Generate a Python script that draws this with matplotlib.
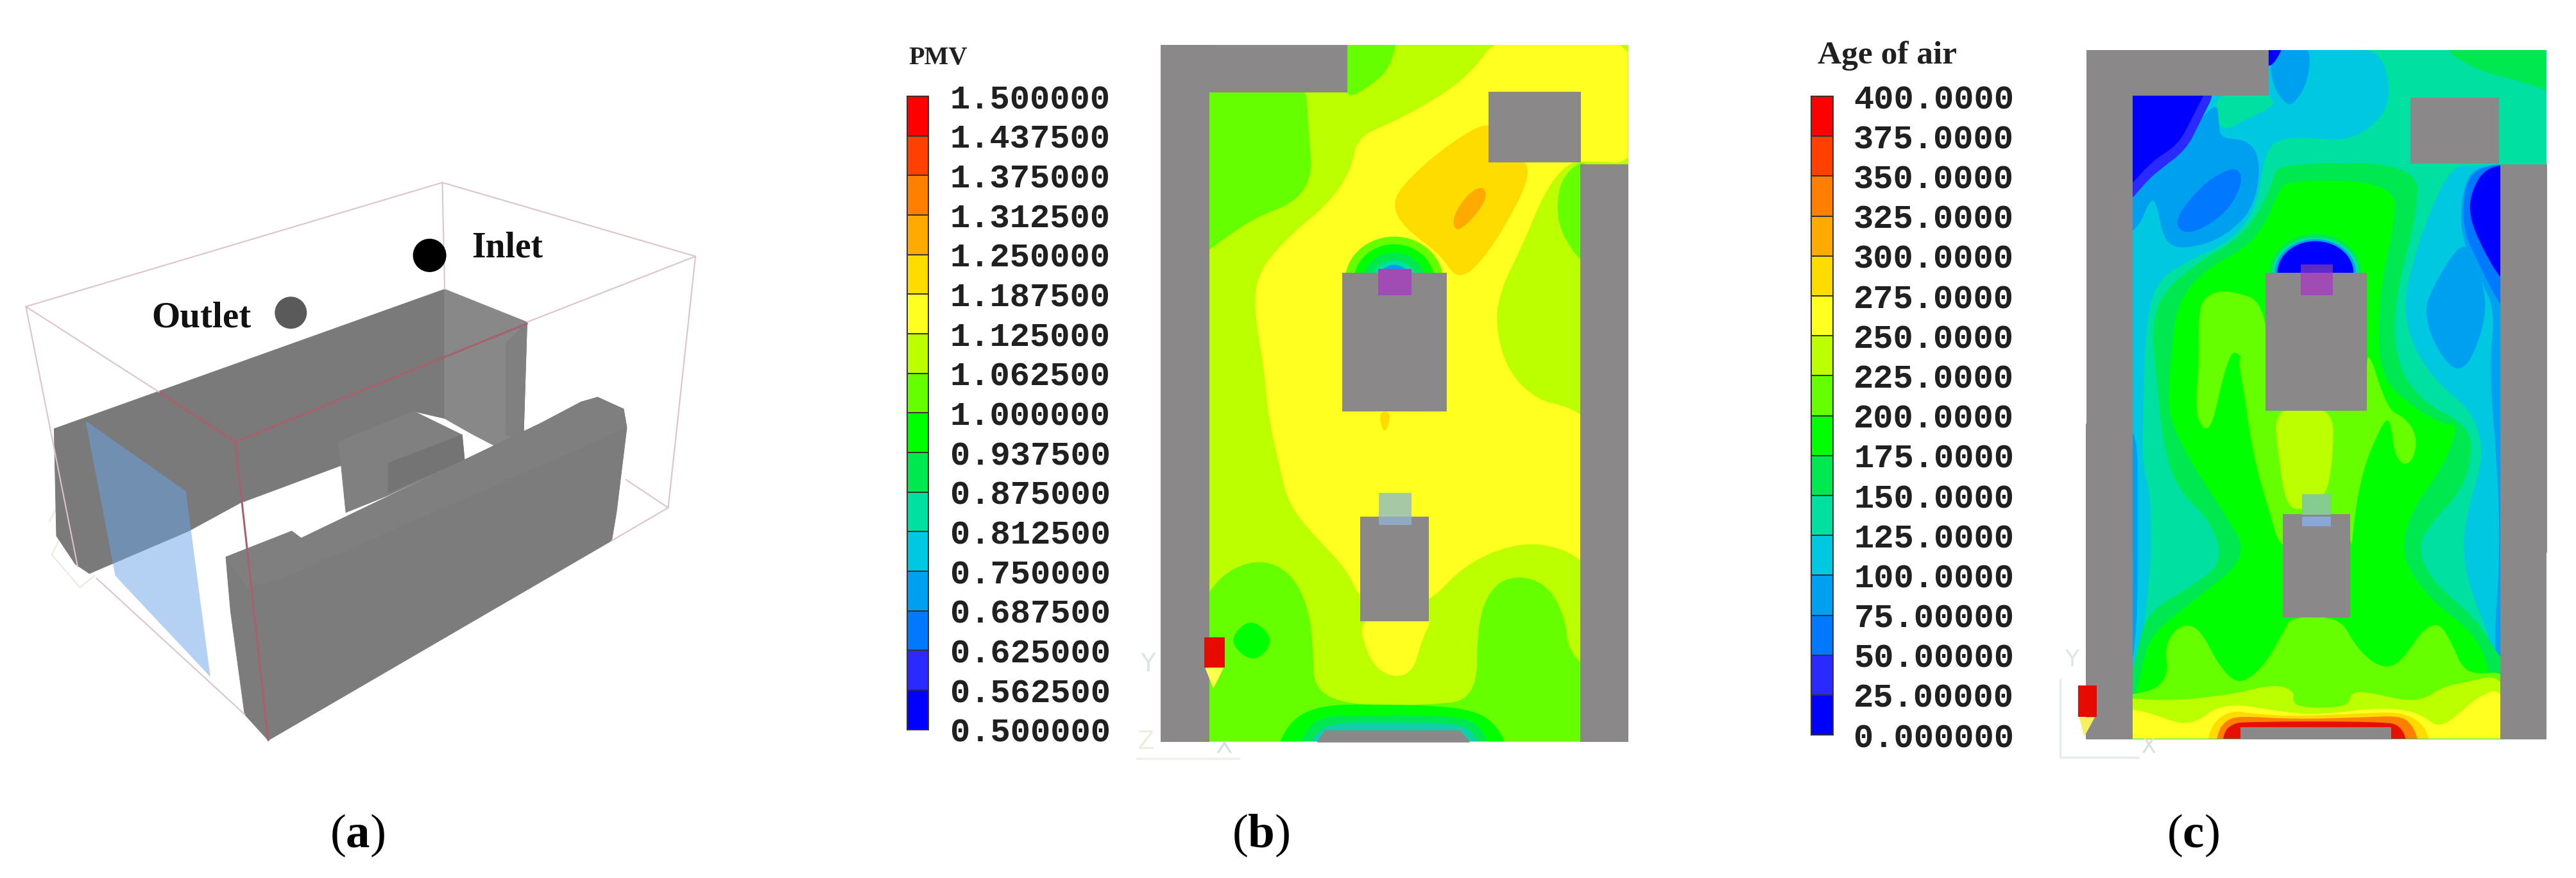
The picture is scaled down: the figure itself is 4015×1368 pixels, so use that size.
#!/usr/bin/env python
import matplotlib
matplotlib.use('Agg')
import matplotlib.pyplot as plt
from matplotlib.patches import PathPatch, Polygon, Rectangle, Ellipse
from matplotlib.path import Path

W, H = 4016, 1368

# legend values and labels
pmv_levels = [0.5, 0.5625, 0.625, 0.6875, 0.75, 0.8125, 0.875, 0.9375, 1.0,
              1.0625, 1.125, 1.1875, 1.25, 1.3125, 1.375, 1.4375, 1.5]
pmv_labels = ['0.500000', '0.562500', '0.625000', '0.687500', '0.750000', '0.812500',
              '0.875000', '0.937500', '1.000000', '1.062500', '1.125000', '1.187500',
              '1.250000', '1.312500', '1.375000', '1.437500', '1.500000']
age_levels = [0, 25, 50, 75, 100, 125, 150, 175, 200, 225, 250, 275, 300, 325, 350, 375, 400]
age_labels = ['0.000000', '25.00000', '50.00000', '75.00000', '100.0000', '125.0000',
              '150.0000', '175.0000', '200.0000', '225.0000', '250.0000', '275.0000',
              '300.0000', '325.0000', '350.0000', '375.0000', '400.0000']
band_colors = ['#0000ff', '#2a2aff', '#0078ff', '#00a0f0', '#00c8e0', '#00e0a0', '#00e850',
               '#00ff00', '#66ff00', '#bbff00', '#ffff20', '#ffdc00', '#ffaa00', '#ff8000',
               '#ff4000', '#ff0000']
c_blue, c_ind, c_b2, c_b3, c_cy, c_te, c_g1, c_g2, c_li, c_yg, c_ye, c_go, c_am, c_or, c_rd, c_re = band_colors
grey = '#8a8888'


def crop(x0, y0, w, h):
    def conv(pts):
        return [(x0 + x * w / 1568.0, y0 + y * h / 1568.0) for x, y in pts]
    return conv


z1 = crop(0, 220, 1150, 1148)
z2 = crop(1380, 40, 1200, 1328)
z3 = crop(2760, 40, 1200, 1328)
z4 = crop(3216, 60, 800, 800)
z5 = crop(3180, 660, 800, 540)

fig = plt.figure(figsize=(W / 100.0, H / 100.0), dpi=100)
plt.rcParams['mathtext.fontset'] = 'custom'
plt.rcParams['mathtext.bf'] = 'Liberation Serif:bold'
plt.rcParams['mathtext.rm'] = 'Liberation Serif'
ax = fig.add_axes([0, 0, 1, 1])
ax.set_xlim(0, W)
ax.set_ylim(H, 0)
ax.axis('off')


def blob(pts, color, clip=None, z=2):
    n = len(pts)
    mid = lambda a, b: ((a[0] + b[0]) / 2.0, (a[1] + b[1]) / 2.0)
    verts = [mid(pts[0], pts[1])]
    codes = [Path.MOVETO]
    for i in range(1, n + 1):
        verts += [pts[(i) % n], mid(pts[i % n], pts[(i + 1) % n])]
        codes += [Path.CURVE3, Path.CURVE3]
    p = PathPatch(Path(verts, codes), fc=color, ec='none', zorder=z)
    ax.add_patch(p)
    if clip is not None:
        p.set_clip_path(clip)
    return p


def poly(pts, color, z=5, seam=True, **kw):
    # same colour edge hides the white seam between touching faces
    p = Polygon(pts, closed=True, fc=color, ec=color if seam else 'none', lw=0.7, zorder=z, **kw)
    ax.add_patch(p)
    return p


def rect(conv, x0, y0, x1, y1, color, z=5):
    return poly(conv([(x0, y0), (x1, y0), (x1, y1), (x0, y1)]), color, z)


def line(pts, color, lw=2.0, z=6):
    xs, ys = zip(*pts)
    ax.plot(xs, ys, color=color, lw=lw, zorder=z, solid_capstyle='round')


# ---------------- panel a
box_light = '#dcc4c8'
box_dark = '#a8606c'
poly(z1([(115, 612), (945, 315), (945, 590), (880, 575), (720, 640), (725, 690), (510, 770),
         (400, 830), (190, 920), (160, 900), (120, 840)]), '#7a7a7a', 2)
poly(z1([(945, 315), (1120, 385), (1112, 640), (1050, 650), (945, 590)]), '#888888', 2)
poly(z1([(1075, 430), (1120, 385), (1112, 640), (1075, 625)]), '#808080', 2)
poly(z1([(940, 592), (1048, 648), (987, 678), (982, 625)]), 'white', 2.5)
poly(z1([(720, 640), (880, 575), (982, 625), (987, 678), (822, 755), (735, 790), (725, 690)]), '#808080', 3)
poly(z1([(825, 685), (982, 625), (987, 678), (825, 748)]), '#747474', 3)
poly(z1([(480, 885), (620, 830), (640, 845), (1150, 600), (1235, 555), (1270, 545), (1325, 570),
         (1332, 610), (1310, 790), (1300, 850), (570, 1275), (520, 1220), (490, 1000)]), '#7c7c7c', 4)
poly(z1([(480, 885), (620, 830), (640, 845), (1150, 600), (1235, 555), (1270, 545), (1325, 570),
         (1332, 610), (600, 930), (525, 950)]), '#7f7f7f', 4)
poly(z1([(182, 595), (395, 745), (447, 1140), (245, 925)]), '#6aa4e8', 5, seam=False, alpha=0.5)
for seg in ([(55, 352), (940, 88), (1478, 245), (1120, 385)],
            [(940, 88), (945, 315)],
            [(55, 352), (340, 535)],
            [(55, 352), (165, 905)],
            [(1478, 245), (1420, 780), (1300, 850)],
            [(1420, 780), (1330, 720)],
            [(205, 930), (520, 1220)]):
    line(z1(seg), box_light, 1.5)
line(z1([(340, 535), (500, 640), (1120, 388)]), box_dark, 2.2)
line(z1([(500, 640), (570, 1275)]), box_dark, 2.2)
line(z1([(105, 810), (130, 760), (150, 800), (110, 880), (170, 950), (200, 925)]), '#e6ece0', 1.5, 1)
rect(z1, 150, 825, 160, 855, '#e07040', 1)
cx, cy = z1([(913, 243)])[0]
ax.add_patch(Ellipse((cx, cy), 52, 52, fc='black', ec='none', zorder=6))
cx, cy = z1([(618, 365)])[0]
ax.add_patch(Ellipse((cx, cy), 50, 50, fc='#5a5a5a', ec='none', zorder=6))
tx, ty = z1([(1003, 228)])[0]
ax.text(tx, ty, 'Inlet', family='Liberation Serif', weight='bold', fontsize=40, va='center', ha='left', color='#111111')
tx, ty = z1([(322, 376)])[0]
ax.text(tx, ty, 'Outlet', family='Liberation Serif', weight='bold', fontsize=41, va='center', ha='left', color='#111111')

# ---------------- panel b
b0, b1 = z2([(560, 35), (1512, 1317)])
clip_b = Rectangle(b0, b1[0] - b0[0], b1[1] - b0[1], transform=ax.transData)
rect(z2, 560, 35, 1512, 1317, c_yg, 1)
green_b = [
    [(560, 60), (855, 80), (862, 200), (870, 275), (835, 325), (760, 350), (700, 385), (640, 425), (560, 480)],
    [(930, 10), (1045, 10), (1030, 75), (990, 110), (930, 140)],
    [(1440, 240), (1385, 268), (1366, 320), (1375, 385), (1440, 460)],
    [(600, 1380), (620, 1100), (680, 1010), (760, 980), (825, 1005), (862, 1070), (872, 1150), (872, 1220),
     (940, 1250), (1100, 1250), (1205, 1240), (1205, 1100), (1235, 1030), (1290, 1010), (1350, 1030),
     (1385, 1090), (1390, 1150), (1440, 1190), (1440, 1380), (1000, 1400)],
]
for g in green_b:
    blob(z2(g), c_li, clip_b, 2)
yellow_b = [(1250, 15), (1195, 85), (1130, 130), (1040, 175), (960, 205), (950, 265), (900, 330), (830, 380),
            (760, 450), (750, 520), (770, 620), (780, 720), (800, 800), (820, 880), (880, 945), (940, 1000),
            (975, 1070), (1100, 1070), (1180, 990), (1290, 950), (1380, 960), (1440, 1000), (1440, 730), (1390, 700),
            (1330, 690), (1270, 640), (1243, 560), (1250, 490), (1300, 400), (1340, 310), (1385, 255), (1425, 248),
            (1540, 255), (1540, 10)]
blob(z2(yellow_b), c_ye, clip_b, 3)
blob(z2([(960, 1080), (985, 1170), (1030, 1200), (1075, 1190), (1092, 1130), (1120, 1080)]), c_ye, clip_b, 3)
blob(z2([(1240, 170), (1150, 215), (1060, 285), (1030, 330), (1060, 375), (1130, 420), (1170, 475), (1245, 400),
         (1330, 250), (1240, 240)]), c_go, clip_b, 3)
blob(z2([(1220, 295), (1190, 305), (1155, 350), (1160, 380), (1190, 362), (1225, 320)]), c_am, clip_b, 3)
blob(z2([(1005, 710), (1030, 710), (1022, 745), (1012, 745)]), c_go, clip_b, 3)
for rx, top, col in ((100, 388, c_li), (82, 402, c_g2), (64, 418, c_g1), (46, 432, c_te), (34, 440, c_b3)):
    cx, cy = z2([(1036, 470)])[0]
    ex, ey = z2([(1036 + rx, 470 - (470 - top))])[0]
    e = Ellipse((cx, cy), 2 * (ex - cx), 2 * (cy - ey), fc=col, ec='none', zorder=3)
    ax.add_patch(e)
for pts, col in (([(780, 1380), (815, 1285), (880, 1250), (1000, 1248), (1180, 1253), (1250, 1285), (1285, 1380)], c_g2),
                 ([(825, 1380), (855, 1292), (900, 1268), (1000, 1268), (1175, 1270), (1220, 1295), (1245, 1380)], c_g1),
                 ([(840, 1380), (870, 1305), (910, 1282), (1000, 1282), (1165, 1282), (1205, 1305), (1230, 1380)], '#10d0a8')):
    blob(z2(pts), col, clip_b, 3)
poly(z2([(880, 1318), (895, 1297), (1170, 1297), (1190, 1318)]), grey, 4)
for r in ((560, 35, 658, 1317), (560, 35, 940, 122), (1415, 255, 1512, 1317),
          (1228, 122, 1415, 250), (930, 455, 1142, 708), (967, 903, 1106, 1094)):
    rect(z2, r[0], r[1], r[2], r[3], grey, 5)
rect(z2, 1003, 447, 1070, 495, '#a04cb4', 6)
rect(z2, 1005, 860, 1070, 903, '#a6c8a4', 6)
rect(z2, 1005, 903, 1070, 918, '#90a8c4', 6)
blob(z2([(745, 1092), (785, 1120), (780, 1150), (745, 1170), (706, 1140), (712, 1115)]), c_g2, clip_b, 3)
rect(z2, 650, 1125, 690, 1180, '#e60a00', 7)
poly(z2([(652, 1182), (688, 1182), (668, 1218)]), '#ffff50', 7)
line(z2([(512, 1348), (720, 1348)]), '#f0f0e8', 2.5, 1)
tx, ty = z2([(535, 1175)])[0]
ax.text(tx, ty, 'Y', family='DejaVu Sans', fontsize=28, color='#dde6e6', ha='center', va='center', zorder=1)
tx, ty = z2([(530, 1318)])[0]
ax.text(tx, ty, 'Z', family='DejaVu Sans', fontsize=28, color='#eeeede', ha='center', va='center', zorder=1)
tx, ty = z2([(690, 1325)])[0]
ax.text(tx, ty, 'X', family='DejaVu Sans', fontsize=28, color='#d8dfe2', ha='center', va='center', zorder=1)

# ---------------- panel c
c0, _ = z4([(70, 35), (0, 0)])
c1, _ = z5([(1545, 1425), (0, 0)])
clip_c = Rectangle(c0, c1[0] - c0[0], c1[1] - c0[1], transform=ax.transData)
poly([c0, (c1[0], c0[1]), c1, (c0[0], c1[1])], c_te, 1)
blob(z4([(1130, 5), (1520, 5), (1520, 175), (1400, 130), (1250, 95)]), c_g1, clip_c, 2)
# cyan
blob(z4([(625, 10), (960, 10), (1005, 170), (960, 260), (860, 315), (740, 300), (640, 310), (610, 380), (590, 520),
         (510, 620), (400, 670), (280, 740), (250, 900), (245, 1100), (240, 1300)]) +
     z5([(335, 300), (340, 550), (330, 750), (310, 1000), (285, 1190), (200, 1200)]) +
     z4([(100, 1000), (100, 100), (400, 100)]), c_cy, clip_c, 2)
blob(z4([(1250, 385), (1190, 390), (1130, 500), (1060, 700), (1040, 830), (1070, 950), (1150, 1060), (1240, 1130),
         (1280, 1230)]) +
     z5([(1345, 200), (1300, 420), (1290, 600), (1320, 780), (1370, 950), (1385, 1100), (1450, 1150), (1450, 0)]) +
     z4([(1400, 800), (1400, 385)]), c_cy, clip_c, 2)
blob(z4([(470, 165), (625, 165), (650, 205), (560, 245), (490, 285), (465, 240)]), c_te, clip_c, 2)
# light blue
blob(z4([(150, 300), (330, 350), (400, 270), (470, 190), (475, 260), (480, 305), (570, 310), (605, 385), (580, 520),
         (500, 600), (400, 640), (310, 635), (285, 500), (265, 490), (225, 590), (150, 600)]), c_b3, clip_c, 3)
blob(z4([(1220, 610), (1115, 780), (1105, 850), (1140, 950), (1205, 1025), (1260, 960), (1300, 800), (1250, 680)]), c_b3, clip_c, 3)
blob(z4([(1400, 380), (1250, 390), (1215, 480), (1215, 610), (1270, 730), (1320, 830), (1300, 1000), (1325, 1300), (1335, 1568)]) +
     z5([(1385, 1000), (1400, 1100), (1480, 1100), (1480, 0)]), c_b3, clip_c, 3)
blob(z5([(200, 0), (298, 0), (298, 400), (298, 800), (290, 1000), (270, 1150), (200, 1150)]), c_b3, clip_c, 3)
blob(z4([(630, 10), (755, 10), (750, 130), (700, 208), (668, 190), (635, 130)]), c_b3, clip_c, 3)
blob(z4([(535, 395), (548, 440), (505, 525), (420, 585), (360, 595), (340, 550), (420, 450), (490, 405)]), c_b2, clip_c, 3)
blob(z4([(1400, 380), (1260, 392), (1222, 470), (1222, 590), (1275, 700), (1340, 830), (1400, 850)]), c_b2, clip_c, 3)
blob(z4([(150, 100), (480, 130), (415, 260), (375, 340), (295, 400), (250, 440), (150, 560)]), c_ind, clip_c, 3)
blob(z4([(150, 100), (455, 120), (390, 250), (350, 325), (270, 375), (205, 450), (150, 480)]), c_blue, clip_c, 3)
blob(z4([(1400, 380), (1290, 392), (1245, 470), (1240, 545), (1282, 645), (1345, 750), (1400, 760)]), c_blue, clip_c, 3)
blob(z4([(620, 10), (680, 10), (640, 85), (615, 80)]), c_blue, clip_c, 3)
# greens
blob(z4([(660, 380), (1090, 380), (1075, 560), (1035, 700), (1005, 880), (1030, 1020), (1110, 1120), (1220, 1170)]) +
     z5([(1325, 100), (1290, 300), (1200, 440), (1150, 560), (1200, 720), (1330, 880), (1400, 1050), (1450, 1130),
         (1450, 1300), (240, 1300), (270, 1200), (300, 1000), (330, 850), (480, 720), (560, 620), (520, 440),
         (420, 300), (375, 100)]) +
     z4([(280, 1000), (270, 880), (300, 780), (400, 690), (540, 610), (610, 510), (640, 430)]), c_g1, clip_c, 4)
blob(z4([(690, 430), (1020, 440), (1005, 600), (975, 720), (960, 900), (975, 1040), (1060, 1120), (1160, 1180)]) +
     z5([(1280, 0), (1230, 200), (1130, 400), (1100, 600), (1190, 800), (1330, 950), (1380, 1150), (1380, 1300), (280, 1300),
         (310, 1100), (340, 950), (470, 800), (640, 600), (560, 400), (470, 200), (400, 0)]) +
     z4([(320, 1100), (330, 950), (350, 800), (440, 700), (560, 640), (620, 560), (655, 470)]), c_g2, clip_c, 4)
# lime patches
blob(z5([(240, 1230), (350, 1210), (392, 1130), (380, 1020), (410, 930), (460, 905), (500, 960), (540, 1080), (595, 1175),
         (645, 1150), (700, 1060), (750, 920), (770, 875), (915, 875), (960, 1000), (1020, 1090), (1080, 1105),
         (1130, 1020), (1170, 930), (1220, 900), (1260, 1000), (1290, 1110), (1340, 1135), (1420, 1120), (1500, 1300),
         (240, 1500)]), c_li, clip_c, 4)
blob(z4([(412, 830), (440, 780), (510, 768), (625, 810), (625, 1140), (580, 1050), (525, 935), (490, 1020), (455, 1185),
         (425, 1195), (402, 1130), (415, 1000)]), c_li, clip_c, 4)
blob(z4([(525, 930), (620, 1100), (930, 1100), (925, 925), (990, 1135), (1042, 1155), (1082, 1215), (1070, 1285), (1040, 1305),
         (1012, 1270), (1000, 1175), (985, 1160), (950, 1230), (915, 1320), (890, 1450), (880, 1568)]) +
     z5([(950, 500), (740, 600), (700, 400), (660, 200), (635, 0)]) + z4([(560, 1130)]), c_li, clip_c, 4)
blob(z4([(640, 1120), (828, 1120), (822, 1300), (800, 1405), (720, 1445), (680, 1420), (660, 1300)]), c_yg, clip_c, 4)
# warm band at the lower vent
blob(z5([(240, 1240), (340, 1250), (420, 1250), (500, 1240), (600, 1220), (680, 1190), (740, 1185), (778, 1220), (770, 1250),
         (790, 1285), (940, 1285), (950, 1210), (1020, 1220), (1100, 1250), (1170, 1250), (1230, 1190), (1300, 1170),
         (1420, 1130), (1500, 1500), (240, 1500)]), c_yg, clip_c, 4)
blob(z5([(240, 1280), (340, 1310), (430, 1362), (490, 1340), (530, 1290), (600, 1270), (680, 1290), (800, 1315), (900, 1310),
         (1000, 1290), (1100, 1290), (1170, 1320), (1210, 1372), (1260, 1340), (1340, 1230), (1420, 1195), (1500, 1600),
         (240, 1600)]), c_ye, clip_c, 4)
blob(z5([(490, 1560), (515, 1400), (540, 1335), (590, 1298), (640, 1312), (780, 1325), (1000, 1310), (1100, 1305),
         (1165, 1350), (1190, 1430), (1220, 1560)]), c_go, clip_c, 4)
blob(z5([(530, 1560), (540, 1400), (565, 1345), (605, 1322), (780, 1338), (1000, 1328), (1100, 1322), (1135, 1360),
         (1155, 1430), (1170, 1560)]), c_or, clip_c, 4)
blob(z5([(550, 1560), (558, 1400), (585, 1360), (625, 1348), (1060, 1348), (1100, 1370), (1120, 1430), (1130, 1560)]), '#e61000', clip_c, 4)
poly(z4([(70, 35), (625, 35), (625, 172), (210, 172), (210, 1568), (70, 1568)]), grey, 5)
poly(z5([(140, 0), (280, 0), (280, 1425), (140, 1425)]), grey, 5)
poly(z5([(612, 1425), (612, 1372), (1070, 1372), (1070, 1425)]), grey, 5)
rect(z4, 1060, 180, 1328, 380, grey, 5)
rect(z4, 618, 715, 925, 1135, grey, 5)
rect(z4, 1335, 385, 1475, 1568, grey, 5)
rect(z5, 1405, 0, 1545, 1425, grey, 5)
rect(z5, 740, 410, 945, 875, grey, 5)
for rx, ry, col in ((140, 118, c_g1), (132, 108, c_te), (124, 102, c_b3)):
    cx, cy = z4([(770, 715)])[0]
    ax.add_patch(Ellipse((cx, cy), 2 * rx / 1.96, 2 * ry / 1.96, fc=col, ec='none', zorder=4))
cx, cy = z4([(770, 715)])[0]
ax.add_patch(Ellipse((cx, cy), 2 * 116 / 1.96, 2 * 96 / 1.96, fc=c_blue, ec='none', zorder=4))
rect(z4, 725, 690, 822, 715, '#5c2cc4', 6)
rect(z4, 725, 715, 822, 782, '#a04cb4', 6)
rect(z5, 800, 320, 885, 410, '#84cc90', 6)
rect(z5, 800, 420, 885, 462, '#88a8d8', 6)
rect(z5, 115, 1185, 170, 1325, '#e60a00', 7)
poly(z5([(120, 1330), (165, 1330), (135, 1412)]), '#f4f060', 7)
line(z5([(60, 1160), (60, 1510), (300, 1510)]), '#e4ecec', 2.5, 1)
tx, ty = z5([(97, 1070)])[0]
ax.text(tx, ty, 'Y', family='DejaVu Sans', fontsize=26, color='#dde6e6', ha='center', va='center', zorder=1)
tx, ty = z5([(332, 1462)])[0]
ax.text(tx, ty, 'X', family='DejaVu Sans', fontsize=24, color='#d8dfe2', ha='center', va='center', zorder=1)


# ---------------- legends
def colorbar(conv, top_left, bot_right, levels, labels, pad):
    (x0, y0), (x1, y1) = conv([top_left, bot_right])
    cb = fig.add_axes([x0 / W, 1 - y1 / H, (x1 - x0) / W, (y1 - y0) / H])
    heights = [b - a for a, b in zip(levels[:-1], levels[1:])]
    cb.bar([0] * len(heights), heights, bottom=levels[:-1], width=1.0, color=band_colors,
           edgecolor='#383030', linewidth=1.4)
    cb.set_xlim(-0.5, 0.5)
    cb.set_ylim(levels[0], levels[-1])
    cb.set_xticks([])
    cb.yaxis.tick_right()
    cb.set_yticks(levels)
    cb.set_yticklabels(labels, family='Liberation Mono', weight='bold', fontsize=37.5, color='#202020')
    cb.tick_params(axis='y', length=0, pad=pad)
    for s in cb.spines.values():
        s.set_color('#383030')
        s.set_linewidth(1.4)


colorbar(z2, (45, 130), (88, 1295), pmv_levels, pmv_labels, 24)
colorbar(z3, (82, 130), (127, 1305), age_levels, age_labels, 23)
tx, ty = z2([(48, 60)])[0]
ax.text(tx, ty, 'PMV', family='Liberation Serif', weight='bold', fontsize=29, va='center', ha='left', color='#202020')
tx, ty = z3([(95, 55)])[0]
ax.text(tx, ty, 'Age of air', family='Liberation Serif', weight='bold', fontsize=37, va='center', ha='left', color='#202020')

# ---------------- captions
for lab, x in (('a', 557), ('b', 1965), ('c', 3418)):
    ax.text(x, 1302, '($\\mathbf{%s}$)' % lab, family='Liberation Serif', fontsize=54, ha='center', va='center', color='black')

plt.savefig('out.png', dpi=100)
